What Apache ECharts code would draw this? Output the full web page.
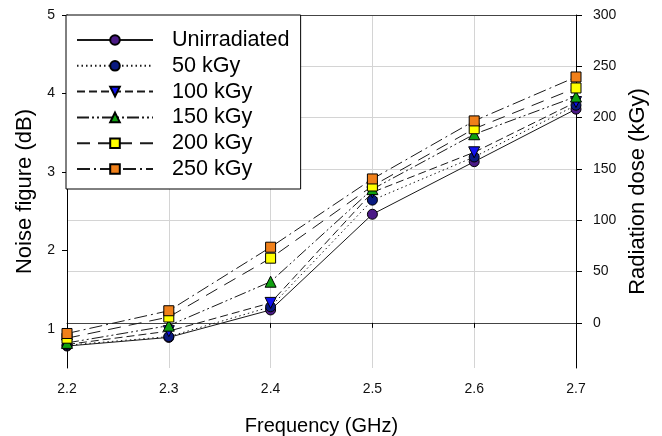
<!DOCTYPE html>
<html><head><meta charset="utf-8">
<script src="https://cdn.jsdelivr.net/npm/echarts@6/dist/echarts.min.js"></script>
<style>html,body{margin:0;padding:0;background:#fff}#c{width:662px;height:436px}</style>
</head><body><div id="c"></div>
<script>
const frequencies = ['2.2','2.3','2.4','2.5','2.6','2.7'];
const unirradiated = [0.78, 0.89, 1.24, 2.46, 3.13, 3.80];
const kgy50  = [0.79, 0.90, 1.28, 2.64, 3.19, 3.85];
const kgy100 = [0.80, 0.97, 1.33, 2.74, 3.25, 3.89];
const kgy150 = [0.82, 1.04, 1.60, 2.78, 3.48, 3.96];
const kgy200 = [0.88, 1.15, 1.90, 2.82, 3.55, 4.07];
const kgy250 = [0.94, 1.23, 2.04, 2.91, 3.65, 4.21];
const seriesNames = ['Unirradiated','50 kGy','100 kGy','150 kGy','200 kGy','250 kGy'];
const noiseTicks = [1, 2, 3, 4, 5];
const doseTicks = [0, 50, 100, 150, 200, 250, 300];

const FONT = 'Liberation Sans, Arial, sans-serif';
const styles = [
  {data: unirradiated, dash: 'solid', symbol: 'circle', size: 10, rot: 0, color: '#4B1A86'},
  {data: kgy50, dash: [1.5, 3], symbol: 'circle', size: 10, rot: 0, color: '#0A1A80'},
  {data: kgy100, dash: [8, 4], symbol: 'triangle', size: 11, rot: 180, color: '#1010F0'},
  {data: kgy150, dash: [12, 3, 2, 3, 2, 3], symbol: 'triangle', size: 11, rot: 0, color: '#10A010'},
  {data: kgy200, dash: [13, 8], symbol: 'rect', size: 10, rot: 0, color: '#FFFF00'},
  {data: kgy250, dash: [13, 4, 2, 4], symbol: 'rect', size: 10, rot: 0, color: '#F0801A'}
];

const series = styles.map((s, i) => ({
  name: seriesNames[i],
  type: 'line',
  xAxisIndex: 0,
  yAxisIndex: 0,
  data: s.data,
  symbol: s.symbol,
  symbolSize: s.size,
  symbolRotate: s.rot,
  showAllSymbol: true,
  lineStyle: {color: '#1a1a1a', width: 1, type: s.dash},
  itemStyle: {color: s.color, borderColor: '#000', borderWidth: 1},
  emphasis: {disabled: true},
  animation: false,
  z: 3 + i
}));

const chart = echarts.init(document.getElementById('c'), null, {renderer: 'canvas'});
chart.setOption({
  animation: false,
  backgroundColor: '#fff',
  textStyle: {fontFamily: FONT},
  grid: {left: 67, right: 86, top: 15, bottom: 68, containLabel: false, outerBoundsMode: 'none'},
  legend: {
    orient: 'vertical',
    left: 66, top: 15,
    padding: [14, 11, 9, 10],
    itemWidth: 76, itemHeight: 12, itemGap: 3.8,
    backgroundColor: '#fff',
    borderColor: '#000', borderWidth: 1,
    textStyle: {fontSize: 21.6, color: '#000', fontFamily: FONT, lineHeight: 21, padding: [0, 0, 0, 14]},
    data: seriesNames,
    z: 10
  },
  xAxis: [{
    type: 'category',
    data: frequencies,
    boundaryGap: false,
    position: 'bottom',
    name: 'Frequency (GHz)',
    nameLocation: 'middle',
    nameGap: 48,
    nameTextStyle: {fontSize: 20, color: '#000', fontFamily: FONT},
    axisLine: {show: true, lineStyle: {color: '#444', width: 1}},
    axisTick: {show: true, length: 5, lineStyle: {color: '#000'}},
    axisLabel: {fontSize: 14, color: '#111', margin: 14, fontFamily: FONT},
    splitLine: {show: true, lineStyle: {color: '#d4d4d4', width: 1}}
  }, {
    type: 'category',
    data: frequencies,
    boundaryGap: false,
    position: 'top',
    axisLine: {show: true, lineStyle: {color: '#444', width: 1}},
    axisTick: {show: false},
    axisLabel: {show: false},
    splitLine: {show: false}
  }],
  yAxis: [{
    type: 'value',
    min: 0.5, max: 5,
    position: 'left',
    name: 'Noise figure (dB)',
    nameLocation: 'middle',
    nameRotate: 90,
    nameGap: 31,
    nameTextStyle: {fontSize: 22, color: '#000', fontFamily: FONT},
    axisLine: {show: true, lineStyle: {color: '#000', width: 1}},
    axisTick: {show: true, length: 5, inside: false, customValues: noiseTicks, lineStyle: {color: '#000'}},
    axisLabel: {fontSize: 14, color: '#111', margin: 12, customValues: noiseTicks, fontFamily: FONT},
    splitLine: {show: false}
  }, {
    type: 'value',
    min: -44, max: 300,
    position: 'right',
    name: 'Radiation dose (kGy)',
    nameLocation: 'middle',
    nameRotate: 90,
    nameGap: 51,
    nameTextStyle: {fontSize: 22, color: '#000', fontFamily: FONT},
    axisLine: {show: true, lineStyle: {color: '#000', width: 1}},
    axisTick: {show: true, length: 6, customValues: doseTicks, lineStyle: {color: '#000'}},
    axisLabel: {fontSize: 14, color: '#111', margin: 17, customValues: doseTicks, fontFamily: FONT},
    splitLine: {show: true, lineStyle: {color: '#d4d4d4', width: 1}}
  }],
  series: series
});
</script>
</body></html>
